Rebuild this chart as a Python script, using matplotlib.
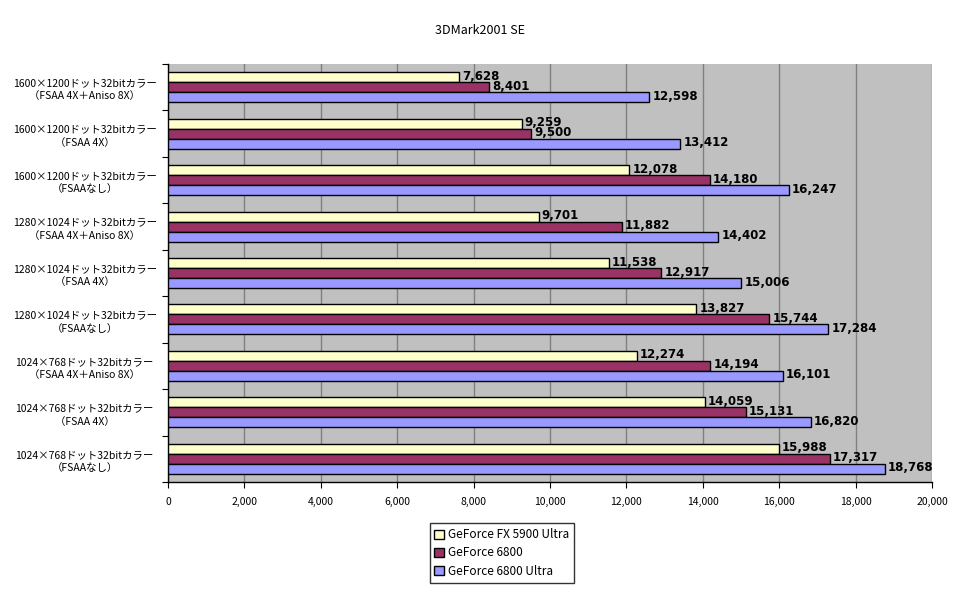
import numpy as np
import matplotlib
matplotlib.use("Agg")
import matplotlib.pyplot as plt

plt.rcParams['font.family'] = ['Noto Sans CJK JP', 'DejaVu Sans']

categories = [
    "1600×1200ドット32bitカラー\n（FSAA 4X＋Aniso 8X）",
    "1600×1200ドット32bitカラー\n（FSAA 4X）",
    "1600×1200ドット32bitカラー\n（FSAAなし）",
    "1280×1024ドット32bitカラー\n（FSAA 4X＋Aniso 8X）",
    "1280×1024ドット32bitカラー\n（FSAA 4X）",
    "1280×1024ドット32bitカラー\n（FSAAなし）",
    "1024×768ドット32bitカラー\n（FSAA 4X＋Aniso 8X）",
    "1024×768ドット32bitカラー\n（FSAA 4X）",
    "1024×768ドット32bitカラー\n（FSAAなし）",
]
series_names = ["GeForce FX 5900 Ultra", "GeForce 6800", "GeForce 6800 Ultra"]
fx5900u = [7628, 9259, 12078, 9701, 11538, 13827, 12274, 14059, 15988]
gf6800 = [8401, 9500, 14180, 11882, 12917, 15744, 14194, 15131, 17317]
gf6800u = [12598, 13412, 16247, 14402, 15006, 17284, 16101, 16820, 18768]
colors = ["#FFFFCC", "#993366", "#9999FF"]

fig = plt.figure(figsize=(9.72, 6.04), dpi=100)
ax = fig.add_axes([168 / 972, 1 - 482 / 604, (932 - 168) / 972, (482 - 64) / 604])
ax.set_facecolor("#C0C0C0")

y = np.arange(len(categories))
h = 0.215
for i, (vals, col) in enumerate(zip([fx5900u, gf6800, gf6800u], colors)):
    pos = y + (i - 1) * h
    ax.barh(pos, vals, height=h, color=col, edgecolor="black", linewidth=1.0,
            label=series_names[i], zorder=3)
    for p, v in zip(pos, vals):
        ax.text(v + 80, p - 0.02, f"{v:,}", va="center", ha="left", fontsize=8.5,
                fontweight="bold", family="DejaVu Sans", zorder=4)

ax.set_ylim(len(categories) - 0.5, -0.5)
ax.set_xlim(0, 20000)
ax.set_xticks(np.arange(0, 20001, 2000))
ax.set_xticklabels([f"{t:,}" for t in range(0, 20001, 2000)], fontsize=7.5)
ax.xaxis.grid(True, color="#808080", linewidth=1.0, zorder=0)
ax.set_axisbelow(True)

ax.set_yticks(np.arange(len(categories) + 1) - 0.5, minor=False)
ax.set_yticklabels([])
ax.set_yticks(y, minor=True)
ax.set_yticklabels(categories, minor=True, fontsize=7.5, ha="center", linespacing=1.4)
ax.tick_params(axis="y", which="minor", length=0, pad=60)
ax.tick_params(axis="y", which="major", length=4, direction="out")
ax.tick_params(axis="x", length=4, direction="out", pad=7)

for s in ["top", "right"]:
    ax.spines[s].set_visible(False)
for s in ["left", "bottom"]:
    ax.spines[s].set_linewidth(1.0)

fig.text(480 / 972, 1 - 30 / 604, "3DMark2001 SE", ha="center", va="center", fontsize=9)

leg = fig.legend(loc="center", bbox_to_anchor=(502 / 972, 1 - 553 / 604), fontsize=8.5,
                 frameon=True, fancybox=False, edgecolor="black", handlelength=0.8,
                 handleheight=0.8, handletextpad=0.4, borderpad=0.4, labelspacing=0.45)
leg.get_frame().set_linewidth(1.0)

fig.savefig("out.png", dpi=100, facecolor="white")
